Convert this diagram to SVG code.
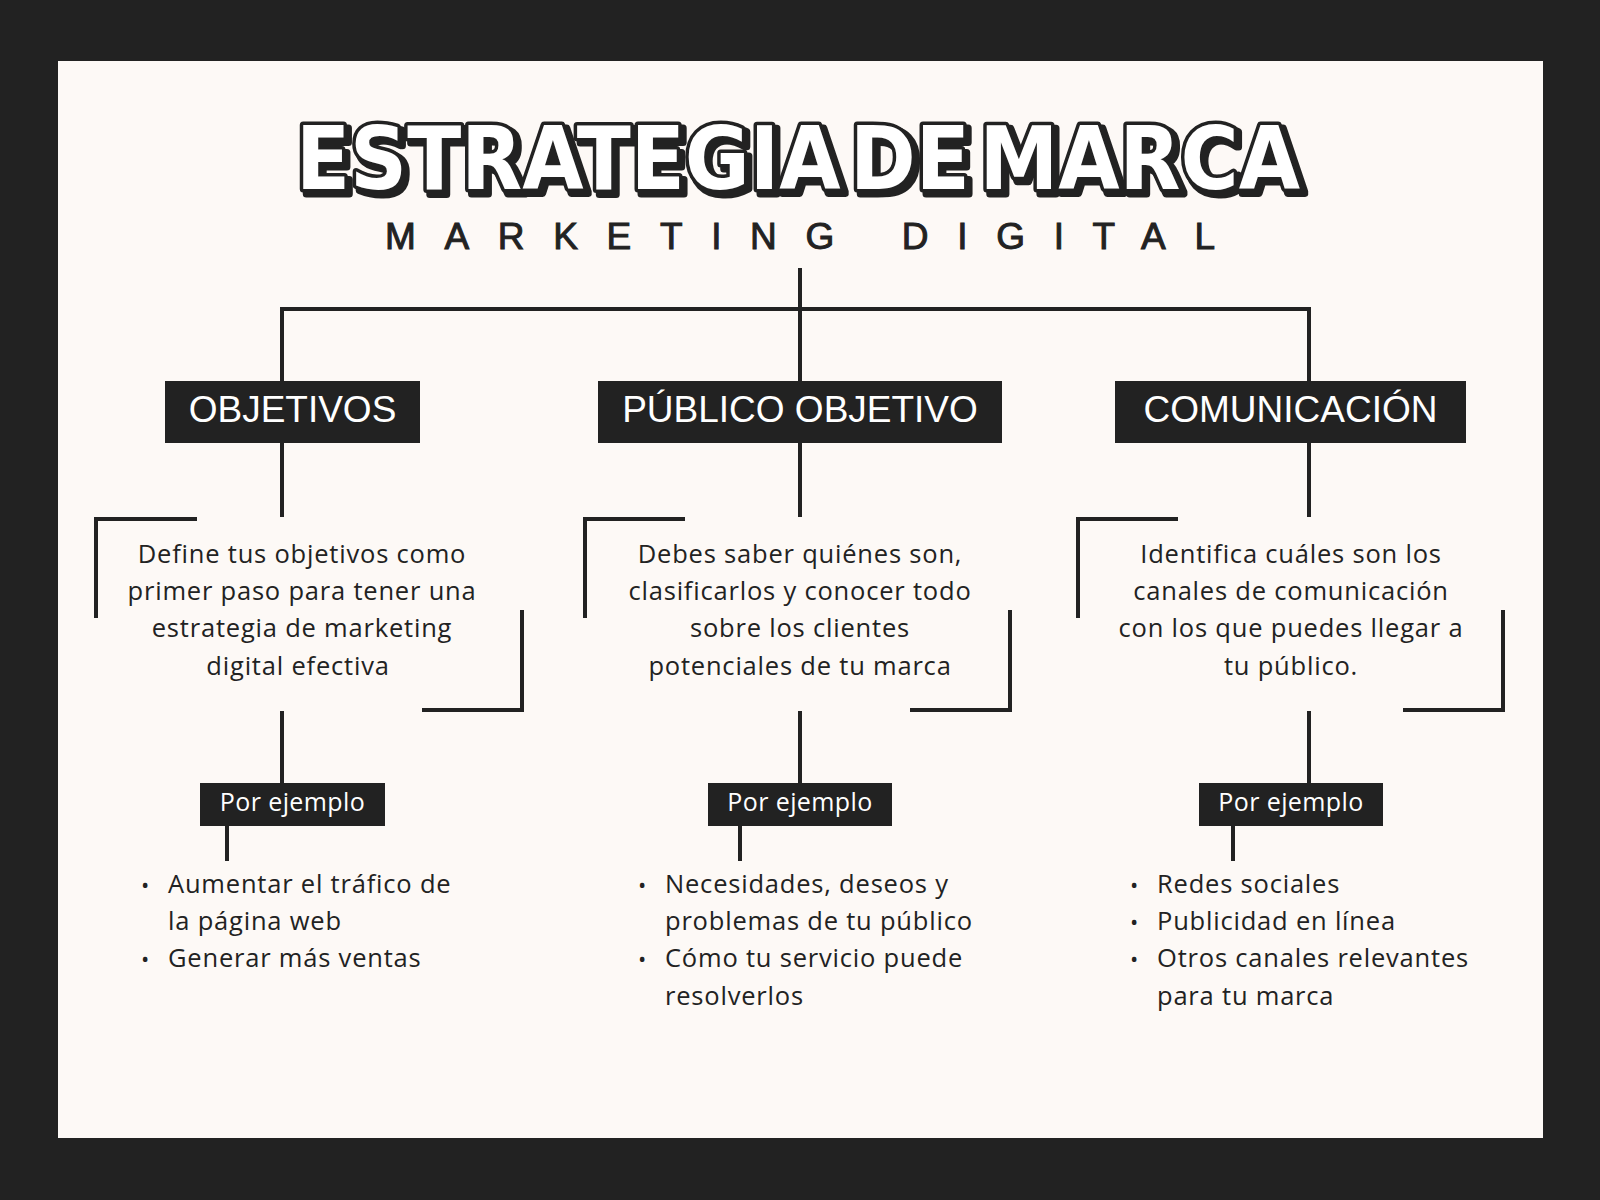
<svg xmlns="http://www.w3.org/2000/svg" width="1600" height="1200" viewBox="0 0 1600 1200">
<defs>
<filter id="shadow" x="-5%" y="-20%" width="110%" height="150%">
<feMorphology in="SourceAlpha" operator="dilate" radius="1" result="thick"/>
<feOffset in="thick" dx="4" dy="4" result="off"/>
<feFlood flood-color="#222222" result="col"/>
<feComposite in="col" in2="off" operator="in" result="sh"/>
<feMerge><feMergeNode in="sh"/><feMergeNode in="SourceGraphic"/></feMerge>
</filter>
</defs>
<style>
.ln{stroke:#222222;stroke-width:4;fill:none;stroke-linecap:butt}
.box{fill:#222222}
.hd{font-family:"Liberation Sans",Arial,sans-serif;font-size:37px;fill:#ffffff;text-anchor:middle}
.body{font-family:"Open Sans","Liberation Sans",sans-serif;font-size:25.5px;fill:#222222;letter-spacing:0.8px}
.ctr{text-anchor:middle}
.ex{font-family:"Open Sans","Liberation Sans",sans-serif;font-size:25px;fill:#ffffff;text-anchor:middle;letter-spacing:0.4px}
.ttl{font-family:"DejaVu Sans Condensed","DejaVu Sans",sans-serif;font-weight:bold;font-size:88px}
</style>
<rect x="0" y="0" width="1600" height="1200" fill="#222222"/>
<rect x="58" y="61" width="1485" height="1077" fill="#FDF9F6"/>

<g id="title">
<text class="ttl" x="296" y="189" textLength="1004" lengthAdjust="spacingAndGlyphs" word-spacing="-18" fill="#ffffff" stroke="#222222" stroke-width="7" stroke-linejoin="round" paint-order="stroke" filter="url(#shadow)">ESTRATEGIA DE MARCA</text>
</g>
<g id="subtitle">
<text x="385" y="249" textLength="830" lengthAdjust="spacing" font-family="Liberation Sans, Arial, sans-serif" font-size="37" fill="#222222" stroke="#222222" stroke-width="1">MARKETING DIGITAL</text>
</g>

<g id="connectors">
<path class="ln" d="M800 268 V381"/>
<path class="ln" d="M282 381 V309 H1309 V381"/>
<path class="ln" d="M282 443 V517"/>
<path class="ln" d="M800 443 V517"/>
<path class="ln" d="M1309 443 V517"/>
<path class="ln" d="M282 711 V783"/>
<path class="ln" d="M800 711 V783"/>
<path class="ln" d="M1309 711 V783"/>
<path class="ln" d="M227 826 V861"/>
<path class="ln" d="M740 826 V861"/>
<path class="ln" d="M1233 826 V861"/>
</g>

<g id="node-objetivos">
<rect class="box" x="165" y="381" width="255" height="62"/>
<text class="hd" x="292.5" y="422">OBJETIVOS</text>
</g>
<g id="node-publico">
<rect class="box" x="598" y="381" width="404" height="62"/>
<text class="hd" x="800" y="422">PÚBLICO OBJETIVO</text>
</g>
<g id="node-comunicacion">
<rect class="box" x="1115" y="381" width="351" height="62"/>
<text class="hd" x="1290.5" y="422">COMUNICACIÓN</text>
</g>

<g id="desc-objetivos">
<path class="ln" d="M197 519 H96 V618"/>
<path class="ln" d="M522 610 V710 H422"/>
<text class="body ctr" x="302" y="563">Define tus objetivos como</text>
<text class="body ctr" x="302" y="600">primer paso para tener una</text>
<text class="body ctr" x="302" y="637">estrategia de marketing</text>
<text class="body ctr" x="298" y="675">digital efectiva</text>
</g>
<g id="desc-publico">
<path class="ln" d="M685 519 H585 V618"/>
<path class="ln" d="M1010 610 V710 H910"/>
<text class="body ctr" x="800" y="563">Debes saber quiénes son,</text>
<text class="body ctr" x="800" y="600">clasificarlos y conocer todo</text>
<text class="body ctr" x="800" y="637">sobre los clientes</text>
<text class="body ctr" x="800" y="675">potenciales de tu marca</text>
</g>
<g id="desc-comunicacion">
<path class="ln" d="M1178 519 H1078 V618"/>
<path class="ln" d="M1503 610 V710 H1403"/>
<text class="body ctr" x="1291" y="563">Identifica cuáles son los</text>
<text class="body ctr" x="1291" y="600">canales de comunicación</text>
<text class="body ctr" x="1291" y="637">con los que puedes llegar a</text>
<text class="body ctr" x="1291" y="675">tu público.</text>
</g>

<g id="ejemplo-objetivos">
<rect class="box" x="200" y="783" width="185" height="43"/>
<text class="ex" x="292.5" y="811">Por ejemplo</text>
</g>
<g id="ejemplo-publico">
<rect class="box" x="708" y="783" width="184" height="43"/>
<text class="ex" x="800" y="811">Por ejemplo</text>
</g>
<g id="ejemplo-comunicacion">
<rect class="box" x="1199" y="783" width="184" height="43"/>
<text class="ex" x="1291" y="811">Por ejemplo</text>
</g>

<g id="list-objetivos" class="body">
<text x="141" y="893" font-size="22">•</text>
<text x="168" y="893">Aumentar el tráfico de</text>
<text x="168" y="930">la página web</text>
<text x="141" y="967" font-size="22">•</text>
<text x="168" y="967">Generar más ventas</text>
</g>
<g id="list-publico" class="body">
<text x="638" y="893" font-size="22">•</text>
<text x="665" y="893">Necesidades, deseos y</text>
<text x="665" y="930">problemas de tu público</text>
<text x="638" y="967" font-size="22">•</text>
<text x="665" y="967">Cómo tu servicio puede</text>
<text x="665" y="1005">resolverlos</text>
</g>
<g id="list-comunicacion" class="body">
<text x="1130" y="893" font-size="22">•</text>
<text x="1157" y="893">Redes sociales</text>
<text x="1130" y="930" font-size="22">•</text>
<text x="1157" y="930">Publicidad en línea</text>
<text x="1130" y="967" font-size="22">•</text>
<text x="1157" y="967">Otros canales relevantes</text>
<text x="1157" y="1005">para tu marca</text>
</g>
</svg>
